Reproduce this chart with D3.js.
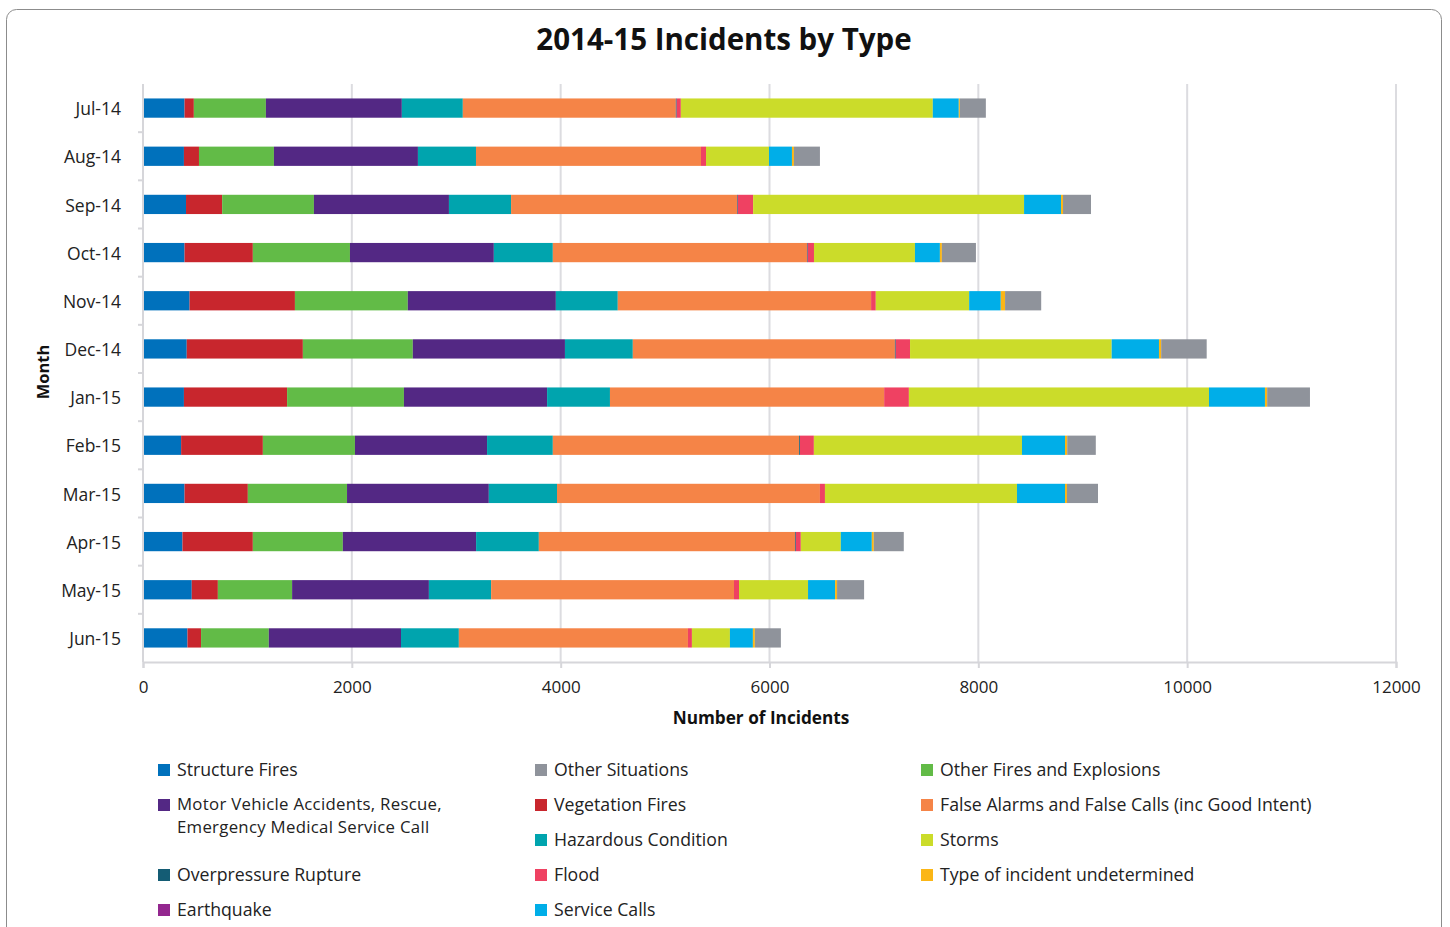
<!DOCTYPE html>
<html>
<head>
<meta charset="utf-8">
<script src="https://cdn.jsdelivr.net/npm/d3@7"></script>
<style>
  html, body { margin: 0; padding: 0; background: #fff; }
  svg { display: block; font-family: "Open Sans", "DejaVu Sans", sans-serif; }
</style>
</head>
<body>
<svg id="chart" width="1450" height="927"></svg>
<script>
// Months shown on the vertical axis (top to bottom)
const months = ["Jul-14","Aug-14","Sep-14","Oct-14","Nov-14","Dec-14","Jan-15","Feb-15","Mar-15","Apr-15","May-15","Jun-15"];

// Incident counts per month, one array per incident type
const structureFires   = [398, 392, 412, 398, 446, 419, 392, 365, 398, 378, 467, 426];
const vegetationFires  = [ 89, 144, 346, 654,1009,1112, 988, 783, 606, 674, 250, 130];
const otherFires       = [690, 718, 879, 930,1081,1053,1119, 882, 950, 862, 711, 649];
const motorVehicle     = [1302,1379,1293,1378,1418,1457,1371,1265,1358,1276,1310,1266];
const hazardous        = [584, 556, 595, 565, 593, 650, 602, 630, 653, 601, 596, 554];
const falseAlarms      = [2040,2155,2164,2434,2426,2510,2626,2359,2518,2453,2326,2194];
const overpressure     = [  8,   0,   7,   7,   0,   8,   0,   8,   0,   8,   0,   0];
const earthquake       = [  0,   0,   0,   0,   0,   0,   0,   0,   0,   0,   0,   0];
const flood            = [ 40,  48, 147,  60,  45, 137, 237, 133,  48,  48,  48,  38];
const storms           = [2413, 603,2595, 967, 894,1931,2874,1993,1839, 383, 661, 364];
const serviceCalls     = [249, 220, 354, 239, 303, 453, 536, 412, 460, 297, 259, 220];
const undetermined     = [ 10,  19,  19,  19,  41,  21,  21,  21,  19,  19,  19,  19];
const otherSituations  = [249, 249, 268, 326, 346, 436, 410, 274, 297, 287, 259, 249];

// Axis ticks
const xTicks = [0, 2000, 4000, 6000, 8000, 10000, 12000];

// Series in stacking order (left to right inside each bar)
const series = [
  { key: "Structure Fires", values: structureFires, color: "#0071bc" },
  { key: "Vegetation Fires", values: vegetationFires, color: "#c8262d" },
  { key: "Other Fires and Explosions", values: otherFires, color: "#62bb47" },
  { key: "Motor Vehicle Accidents, Rescue, Emergency Medical Service Call", values: motorVehicle, color: "#532884" },
  { key: "Hazardous Condition", values: hazardous, color: "#00a4ae" },
  { key: "False Alarms and False Calls (inc Good Intent)", values: falseAlarms, color: "#f58447" },
  { key: "Overpressure Rupture", values: overpressure, color: "#145c74" },
  { key: "Earthquake", values: earthquake, color: "#93278f" },
  { key: "Flood", values: flood, color: "#ef4162" },
  { key: "Storms", values: storms, color: "#cbdc2a" },
  { key: "Service Calls", values: serviceCalls, color: "#00aee8" },
  { key: "Type of incident undetermined", values: undetermined, color: "#fbb616" },
  { key: "Other Situations", values: otherSituations, color: "#8f939b" }
];

// Legend layout: three columns, rows in order
const legendItems = [
  { key: "Structure Fires", col: 0, row: 0 },
  { key: "Other Situations", col: 1, row: 0 },
  { key: "Other Fires and Explosions", col: 2, row: 0 },
  { key: "Motor Vehicle Accidents, Rescue, Emergency Medical Service Call", col: 0, row: 1, lines: ["Motor Vehicle Accidents, Rescue,", "Emergency Medical Service Call"] },
  { key: "Vegetation Fires", col: 1, row: 1 },
  { key: "False Alarms and False Calls (inc Good Intent)", col: 2, row: 1 },
  { key: "Hazardous Condition", col: 1, row: 2 },
  { key: "Storms", col: 2, row: 2 },
  { key: "Overpressure Rupture", col: 0, row: 3 },
  { key: "Flood", col: 1, row: 3 },
  { key: "Type of incident undetermined", col: 2, row: 3 },
  { key: "Earthquake", col: 0, row: 4 },
  { key: "Service Calls", col: 1, row: 4 }
];

const svg = d3.select("#chart");
const W = 1450, H = 927;
const margin = { left: 143, right: 54, top: 84, bottom: 265 };
const plotW = W - margin.left - margin.right;
const plotH = H - margin.top - margin.bottom;

// Outer frame
svg.append("rect")
  .attr("x", 6.5).attr("y", 9.5)
  .attr("width", 1435).attr("height", 940)
  .attr("rx", 10).attr("ry", 10)
  .attr("fill", "#fff").attr("stroke", "#8c8c8c").attr("stroke-width", 1);

// Title
svg.append("text")
  .attr("x", 724).attr("y", 50)
  .attr("text-anchor", "middle")
  .attr("font-size", 29.5).attr("font-weight", 700).attr("fill", "#111")
  .text("2014-15 Incidents by Type");

const g = svg.append("g").attr("transform", `translate(${margin.left},${margin.top})`);

const x = d3.scaleLinear().domain([0, 12000]).range([0, plotW]);
const y = d3.scaleBand().domain(months).range([0, plotH]).paddingInner(0.6).paddingOuter(0.3);
const yOuter = d3.scaleBand().domain(months).range([0, plotH]);

// Vertical gridlines
g.append("g").selectAll("line").data(xTicks.slice(1)).join("line")
  .attr("x1", d => x(d)).attr("x2", d => x(d))
  .attr("y1", 0).attr("y2", plotH)
  .attr("stroke", "#dcdce0").attr("stroke-width", 2);

// Stacked bars
const rows = months.map((m, i) => {
  const r = { month: m };
  series.forEach(s => r[s.key] = s.values[i]);
  return r;
});
const stack = d3.stack().keys(series.map(s => s.key));
const layers = stack(rows);
const colorOf = new Map(series.map(s => [s.key, s.color]));

g.append("g").selectAll("g").data(layers).join("g")
  .attr("fill", d => colorOf.get(d.key))
  .selectAll("rect").data(d => d).join("rect")
  .attr("x", d => x(d[0]))
  .attr("y", d => y(d.data.month))
  .attr("width", d => Math.max(0, x(d[1]) - x(d[0])))
  .attr("height", y.bandwidth());

// X axis
const xAxis = g.append("g").attr("transform", `translate(0,${plotH})`)
  .call(d3.axisBottom(x).tickValues(xTicks).tickSize(6).tickPadding(13).tickFormat(d3.format("d")));
xAxis.select(".domain").attr("stroke", "#d6d6da").attr("stroke-width", 2);
xAxis.selectAll(".tick line").attr("stroke", "#d6d6da").attr("stroke-width", 2);
xAxis.selectAll("text").attr("font-size", 17).attr("fill", "#222")
  .attr("font-family", "'Open Sans', sans-serif");

// Y axis: labels per month, ticks on band boundaries
const yAxis = g.append("g");
yAxis.append("line").attr("x1", 0).attr("x2", 0).attr("y1", 0).attr("y2", plotH)
  .attr("stroke", "#d6d6da").attr("stroke-width", 2);
yAxis.selectAll("line.tk").data(months.slice(1)).join("line").attr("class", "tk")
  .attr("x1", -5).attr("x2", 0)
  .attr("y1", d => yOuter(d)).attr("y2", d => yOuter(d))
  .attr("stroke", "#d6d6da").attr("stroke-width", 2);
yAxis.selectAll("text").data(months).join("text")
  .attr("x", -22)
  .attr("y", d => y(d) + y.bandwidth() / 2 + 1)
  .attr("dy", "0.35em")
  .attr("text-anchor", "end")
  .attr("font-size", 17.5).attr("fill", "#222")
  .text(d => d);

// Axis titles
svg.append("text")
  .attr("x", 761).attr("y", 724)
  .attr("text-anchor", "middle")
  .attr("font-size", 17.2).attr("font-weight", 700).attr("fill", "#111")
  .text("Number of Incidents");
svg.append("text")
  .attr("transform", "translate(49,372) rotate(-90)")
  .attr("text-anchor", "middle")
  .attr("font-size", 16.5).attr("font-weight", 700).attr("fill", "#111")
  .text("Month");

// Legend
const colX = [158, 535, 921];
const rowY = [770, 805, 840, 875, 910];
const lg = svg.append("g");
legendItems.forEach(item => {
  const cx = colX[item.col], cy = rowY[item.row];
  lg.append("rect")
    .attr("x", cx).attr("y", cy - 6)
    .attr("width", 12).attr("height", 12)
    .attr("fill", colorOf.get(item.key));
  if (item.lines) {
    // Wrapped entry: slightly smaller type with a little tracking, 23px leading
    item.lines.forEach((ln, k) => {
      lg.append("text")
        .attr("x", cx + 19).attr("y", cy - 1 + k * 23)
        .attr("dy", "0.35em")
        .attr("font-size", 16.8).attr("letter-spacing", 0.28).attr("fill", "#222")
        .text(ln);
    });
  } else {
    lg.append("text")
      .attr("x", cx + 19).attr("y", cy)
      .attr("dy", "0.35em")
      .attr("font-size", 17.7).attr("fill", "#222")
      .text(item.key);
  }
});
</script>
</body>
</html>
